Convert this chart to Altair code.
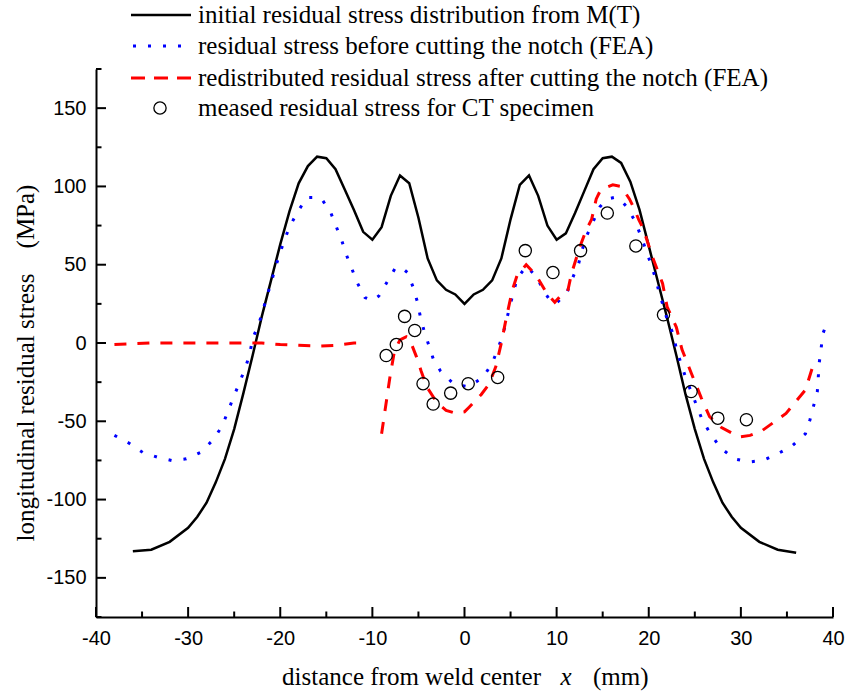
import altair as alt
import pandas as pd

# ---------------- data ----------------
black_x = [-36, -34, -32, -30, -29, -28, -27, -26, -25, -24, -23, -22, -21, -20, -19, -18, -17, -16, -15, -14,
           -13, -12, -11, -10, -9, -8, -7, -6, -5, -4, -3, -2, -1, 0, 1, 2, 3, 4, 5, 6, 7, 8, 9, 10, 11, 12, 13,
           14, 15, 16, 17, 18, 19, 20, 21, 22, 23, 24, 25, 26, 27, 28, 29, 30, 32, 34, 36]
black_y = [-133, -132, -127, -118, -111, -102, -89, -74, -55, -32, -8, 17, 40, 63, 84, 102, 113, 119, 118, 111,
           98, 85, 71, 66, 74, 94, 107, 102, 80, 54, 40, 34, 31, 25, 31, 34, 40, 54, 79, 101, 107, 94, 75, 66, 70,
           83, 97, 111, 118, 119, 115, 103, 85, 62, 39, 16, -8, -33, -55, -74, -89, -102, -111, -118, -127, -132, -134]

blue_x = [-38, -36.4, -34.9, -33.3, -31.8, -30.2, -28.7, -27.3, -26.3, -25.7, -25.1, -24.4, -23.8, -23.3, -23,
          -22.4, -21.9, -21.5, -21, -20.6, -20.1, -19.6, -19, -18.2, -17.1, -16.3, -15.5, -14.5, -13.9, -13.3,
          -12.8, -12.2, -11.6, -10.8, -10, -9.3, -8.5, -7.5, -6.8, -6.2, -5.6, -5.1, -4.8, -4.4, -3.9, -3.4, -2.6,
          -1.2, 0.4, 2, 3, 3.6, 4.1, 4.5, 4.9, 5.3, 5.7, 6.7, 7.9, 8.5, 9.2, 9.9, 11.1, 11.7, 12.4, 12.8, 13.3,
          14, 14.7, 15.5, 16.3, 17, 17.6, 18.5, 19.1, 19.6, 20.2, 20.7, 21.1, 22, 22.7, 23, 23.5, 24, 24.6, 25.2,
          25.8, 26.7, 27.8, 29.3, 30.9, 32.4, 33.9, 35.5, 37, 37.5, 37.9, 38.3, 38.4, 38.5, 38.7, 38.9, 39.1]
blue_y = [-59, -64, -70, -73, -75, -74, -70, -62, -53, -44, -35, -25, -16, -7, 3,
          11, 20, 29, 38, 47, 56, 65, 74, 83, 93, 93, 92, 83, 74, 65,
          56, 47, 38, 29, 27, 30, 38, 48, 48, 45, 36, 26, 17, 8, -1, -10, -18,
          -26, -28, -22, -13, -4, 4, 13, 23, 32, 41, 49, 42, 34, 28, 25, 32, 41, 51, 60, 69,
          78, 87, 92, 93, 91, 87, 78, 69, 61, 51, 42, 33, 15, 5, -4, -13, -22, -31, -40,
          -49, -58, -67, -74, -76, -75, -71, -66, -58, -49, -40, -31, -22, -13, -4, 6, 9]

red_left_x = [-38, -34, -30, -26, -22, -20, -18, -16, -14, -12, -11]
red_left_y = [-1, 0, 0, 0, 0, -1, -1.5, -2, -1.5, 0, 0]

red_right_x = [-9, -8.1, -7.6, -7, -6.3, -6, -5.2, -4.7, -4.1, -3, -2, -0.9, 0, 0.5, 1.8, 2.7, 3.4, 4, 4.5,
               5.2, 5.7, 6.7, 7.8, 8.3, 8.9, 9.8, 10.7, 11.2, 11.6, 12.5, 13.2, 13.8, 14.3, 14.8, 16.1, 17,
               17.9, 18.4, 18.9, 19.4, 20.4, 21.5, 22, 23, 23.6, 24.6, 25.7, 26.6, 27.9, 29.8, 31, 32.3,
               34.9, 37, 37.8]
red_right_y = [-58, -22, -5, 2, 4, 3, -9, -18, -28, -38, -43, -45, -44, -41, -33, -26, -15, 0, 15,
               34, 43, 50, 43, 38, 32, 26, 32, 33, 44, 61, 72, 79, 92, 98, 101, 100,
               92, 86, 79, 73, 55, 38, 23, 10, -4, -19, -35, -47, -54, -60, -59, -56,
               -45, -30, -15]

meas_x = [-8.5, -7.4, -6.5, -5.4, -4.5, -3.4, -1.5, 0.4, 3.6, 6.6, 9.6, 12.6, 15.5, 18.6, 21.6, 24.6, 27.5, 30.6]
meas_y = [-8, -1, 17, 8, -26, -39, -32, -26, -22, 59, 45, 59, 83, 62, 18, -31, -48, -49]

x_major = [-40, -30, -20, -10, 0, 10, 20, 30, 40]
x_minor = [-35, -25, -15, -5, 5, 15, 25, 35]
y_major = [-150, -100, -50, 0, 50, 100, 150]
y_minor = [-175, -125, -75, -25, 25, 75, 125, 175]

legend_labels = [
    "initial residual stress distribution from M(T)",
    "residual stress before cutting the notch (FEA)",
    "redistributed residual stress after cutting the notch (FEA)",
    "meased residual stress for CT specimen",
]
x_title_parts = ["distance from weld center", "x", "(mm)"]
y_title = "longitudinal residual stress\u00a0\u00a0\u00a0\u00a0(MPa)"

# ---------------- layout ----------------
W, H = 737, 548
SERIF = "Liberation Serif"
SANS = "Liberation Sans"

xs = alt.Scale(domain=[-40, 40], nice=False, zero=False)
ys = alt.Scale(domain=[-175, 175], nice=False, zero=False)

x_axis = alt.Axis(values=x_major, ticks=False, tickSize=0, grid=False, domainWidth=2, domainColor="black",
                  labelFont=SANS, labelFontSize=20, labelColor="black", labelPadding=11,
                  labelExpr="'' + datum.value", labelFlush=False, labelOverlap=False, title=None)
y_axis = alt.Axis(values=y_major, ticks=False, tickSize=0, grid=False, domainWidth=2, domainColor="black",
                  labelFont=SANS, labelFontSize=20, labelColor="black", labelPadding=10,
                  labelExpr="'' + datum.value", labelFlush=False, labelOverlap=False, title=None)

X = alt.X("x:Q", scale=xs, axis=x_axis)
Y = alt.Y("y:Q", scale=ys, axis=y_axis)

df_black = pd.DataFrame({"x": black_x, "y": black_y})
df_blue = pd.DataFrame({"x": blue_x, "y": blue_y})
df_red = pd.concat([
    pd.DataFrame({"x": red_left_x, "y": red_left_y, "seg": "a"}),
    pd.DataFrame({"x": red_right_x, "y": red_right_y, "seg": "b"}),
])
df_meas = pd.DataFrame({"x": meas_x, "y": meas_y})

black = alt.Chart(df_black).mark_line(color="black", strokeWidth=2.5).encode(x=X, y=Y)
blue = alt.Chart(df_blue).mark_line(color="#0000ff", strokeWidth=3, strokeDash=[3, 12]).encode(x=X, y=Y)
red = alt.Chart(df_red).mark_line(color="#ff0000", strokeWidth=3, strokeDash=[12, 11]).encode(
    x=X, y=Y, detail="seg:N")
meas = alt.Chart(df_meas).mark_point(shape="circle", size=150, filled=False, color="black",
                                     strokeWidth=1.3, opacity=1).encode(x=X, y=Y)

# inward ticks
xt_major = alt.Chart(pd.DataFrame({"x": x_major})).mark_rule(color="black", strokeWidth=2).encode(
    x=X, y=alt.value(H), y2=alt.value(H - 10))
xt_minor = alt.Chart(pd.DataFrame({"x": x_minor})).mark_rule(color="black", strokeWidth=2).encode(
    x=X, y=alt.value(H), y2=alt.value(H - 5.5))
yt_major = alt.Chart(pd.DataFrame({"y": y_major})).mark_rule(color="black", strokeWidth=2).encode(
    y=Y, x=alt.value(0), x2=alt.value(10))
yt_minor = alt.Chart(pd.DataFrame({"y": y_minor})).mark_rule(color="black", strokeWidth=2).encode(
    y=Y, x=alt.value(0), x2=alt.value(5.5))

# axis titles
def txt(s, x, y, align, style="normal", angle=0, baseline="alphabetic"):
    kw = dict(font=SERIF, fontSize=25, color="black", align=align, baseline=baseline, fontStyle=style)
    if angle:
        kw["angle"] = angle
    return alt.Chart(alt.Data(values=[{"t": s}])).mark_text(**kw).encode(
        text="t:N", x=alt.value(x), y=alt.value(y))

xt1 = txt(x_title_parts[0], 445, H + 68, "right")
xt2 = txt(x_title_parts[1], 470, H + 68, "center", style="italic")
xt3 = txt(x_title_parts[2], 497, H + 68, "left")
yt = txt(y_title, -62, 294, "center", angle=270)

# legend
ROWS = [-54, -23, 9, 39]
leg_black = alt.Chart(alt.Data(values=[{"k": 0}])).mark_rule(color="black", strokeWidth=2.5).encode(
    x=alt.value(35), x2=alt.value(95), y=alt.value(ROWS[0]))
leg_blue = alt.Chart(alt.Data(values=[{"k": 1}])).mark_rule(color="#0000ff", strokeWidth=3, strokeDash=[3, 12]).encode(
    x=alt.value(37), x2=alt.value(95), y=alt.value(ROWS[1]))
leg_red = alt.Chart(alt.Data(values=[{"k": 2}])).mark_rule(color="#ff0000", strokeWidth=3, strokeDash=[14, 9]).encode(
    x=alt.value(35), x2=alt.value(95), y=alt.value(ROWS[2]))
leg_pt = alt.Chart(alt.Data(values=[{"k": 3}])).mark_point(shape="circle", size=150, filled=False, color="black",
                                                           strokeWidth=1.3, opacity=1).encode(
    x=alt.value(64), y=alt.value(ROWS[3]))
leg_txt = [txt(lbl, 102, r, "left", baseline="middle") for lbl, r in zip(legend_labels, ROWS)]

chart = alt.layer(
    black, blue, red, meas, xt_major, xt_minor, yt_major, yt_minor,
    xt1, xt2, xt3, yt, leg_black, leg_blue, leg_red, leg_pt, *leg_txt
).properties(
    width=W, height=H,
    padding={"left": 96, "top": 69, "right": 13, "bottom": 76},
    autosize=alt.AutoSizeParams(type="none"),
    background="white",
).configure_view(stroke=None)

chart.save("out.html", embed_options={"renderer": "svg", "actions": False})
